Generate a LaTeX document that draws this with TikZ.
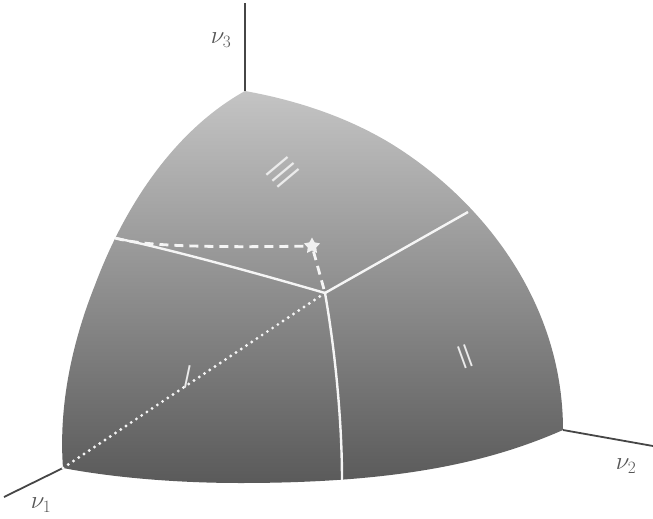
\documentclass[tikz,border=0pt]{standalone}
\usepackage{amsmath, amssymb}
\usetikzlibrary{shapes.geometric, positioning}
\definecolor{axisGray}{RGB}{70, 70, 70}
\definecolor{labelGray}{RGB}{85, 85, 85}
\definecolor{topGray}{RGB}{196, 196, 196}
\definecolor{bottomGray}{RGB}{90, 90, 90}
\begin{document}
\begin{tikzpicture}[
    x=1pt, y=-1pt,
    axis/.style={draw=axisGray, line width=1.8pt},
    axislabel/.style={font=\fontsize{27}{27}\selectfont, text=labelGray, inner sep=0pt},
    seam/.style={draw=white!96!black, line width=2.4pt},
    seamdash/.style={seam, line width=2.8pt, dash pattern=on 9pt off 6pt},
    seamdot/.style={seam, line width=3.2pt, line cap=round, dash pattern=on 0pt off 6.3pt},
    region/.style={font=\sffamily\fontsize{#1}{#1}\selectfont, text=white!92!black, inner sep=0pt}
]
\useasboundingbox (0,0) rectangle (653,519);
\coordinate (apex) at (245,91);
\coordinate (west) at (63,468);
\coordinate (east) at (563,430);
\coordinate (meet) at (325,293);
\coordinate (ridgeL) at (115,238);
\coordinate (ridgeR) at (468,212);
\coordinate (foot) at (342,480);
\coordinate (end3) at (245,3);
\coordinate (end1) at (4,497);
\coordinate (end2) at (653,446);
\draw[axis] (apex) -- (end3);
\draw[axis] (west) -- (end1);
\draw[axis] (east) -- (end2);
\shade[top color=topGray, bottom color=bottomGray]
    (apex) .. controls (295,100) and (345,116) .. (390,143)
    .. controls (480,198) and (563,300) .. (east)
    .. controls (490,462) and (400,483) .. (240,483)
    .. controls (180,483) and (115,478) .. (west)
    .. controls (58,400) and (75,335) .. (95,285)
    .. controls (125,205) and (175,130) .. (apex) -- cycle;
\node[star, star points=5, star point ratio=1.9, fill=white!94!black, inner sep=0pt, minimum size=17pt] (vac) at (312,246) {};
\draw[seam] (meet) .. controls (270,277) and (170,249) .. (ridgeL);
\draw[seam] (meet) -- (ridgeR);
\draw[seam] (meet) .. controls (335,350) and (342,420) .. (foot);
\draw[seamdash] (ridgeL) .. controls (140,245) and (190,248) .. (vac);
\draw[seamdash] (vac) -- (meet);
\draw[seamdot] (meet) -- (west);
\node[axislabel] (nu3) at (221,40) {$\nu_3$};
\node[axislabel] (nu1) at (41,505) {$\nu_1$};
\node[axislabel] (nu2) at (626,466) {$\nu_2$};
\node[region=33, rotate=-12] (one) at (188,377) {\scalebox{0.7}[1]{I}};
\node[region=33, rotate=20] (two) at (465,357) {\scalebox{0.7}[1]{II}};
\node[region=40, rotate=-50] (three) at (283,172) {\scalebox{0.7}[1]{III}};
\end{tikzpicture}
\end{document}
